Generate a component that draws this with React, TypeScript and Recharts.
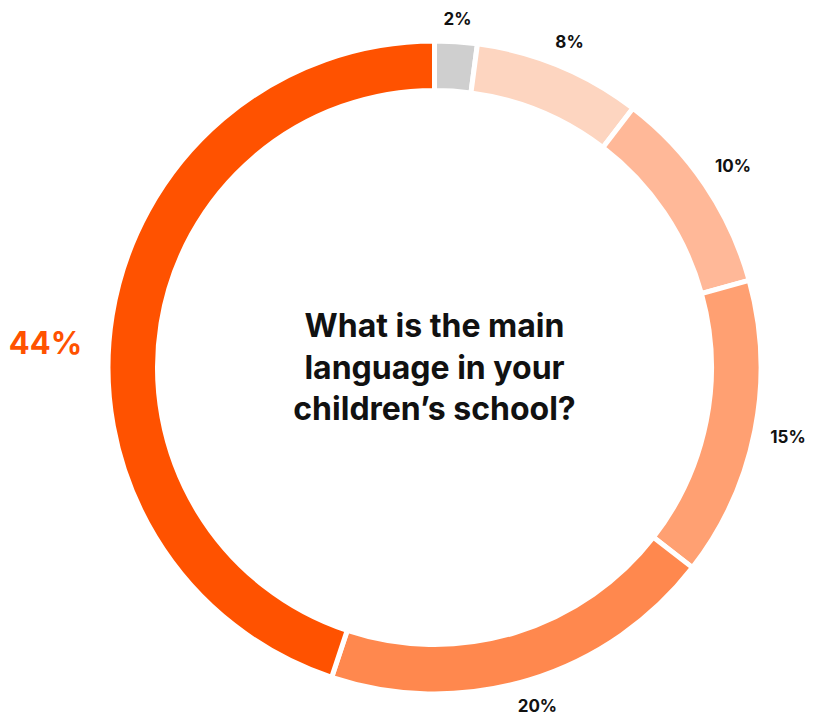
import React from 'react';
import { PieChart, Pie, Cell } from 'recharts';

const categories = ['Other', 'Answer E', 'Answer D', 'Answer C', 'Answer B', 'Answer A'];
const shares = [2.1, 8.3, 10.3, 14.8, 19.6, 44.9];
const labels = ['2%', '8%', '10%', '15%', '20%', '44%'];
const colors = ['#cfcfcf', '#fdd5c0', '#ffb898', '#ffa072', '#ff884e', '#ff5200'];
const titleLines = ['What is the main', 'language in your', 'children\u2019s school?'];

const data = categories.map((name, i) => ({ name, value: shares[i], label: labels[i] }));

const FONT = 'Inter, "Noto Sans", sans-serif';
const RAD = Math.PI / 180;

const renderLabel = (props: any) => {
    const { cx, cy, midAngle, outerRadius, index } = props;
    const big = index === labels.length - 1;
    const fontSize = big ? 31 : 17;
    const text = labels[index];
    const halfW = text.length * fontSize * 0.33;
    const halfH = fontSize * 0.38;
    // clockwise angle from 12 o'clock
    let t = (((90 - midAngle) % 360) + 360) % 360;
    // the big highlight label sits closer to the horizontal and further out
    if (big) t = 270 + (t - 270) * 0.4;
    const a = t * RAD;
    const gap = big ? 32 : 16;
    const r = outerRadius + gap + halfW * Math.abs(Math.sin(a)) + halfH * Math.abs(Math.cos(a));
    const x = cx + r * Math.sin(a);
    const y = cy - r * Math.cos(a);
    return (
        <text
            x={x}
            y={y}
            textAnchor="middle"
            dominantBaseline="central"
            fill={big ? '#ff5200' : '#111111'}
            fontSize={fontSize}
            fontWeight={700}
            fontFamily={FONT}
        >
            {text}
        </text>
    );
};

export default function App() {
    // chart margin is 5px, so pie centre is given relative to that
    const cx = 429.5;
    const cy = 362.5;
    return (
        <div style={{ position: 'absolute', left: 0, top: 0, width: 823, height: 716, background: '#fff' }}>
            <PieChart width={823} height={716}>
                <Pie
                    data={data}
                    dataKey="value"
                    nameKey="name"
                    cx={cx}
                    cy={cy}
                    innerRadius={277}
                    outerRadius={326.5}
                    startAngle={90}
                    endAngle={-270}
                    stroke="#ffffff"
                    strokeWidth={5}
                    label={renderLabel}
                    labelLine={false}
                    isAnimationActive={false}
                >
                    {data.map((d, i) => (
                        <Cell key={d.name} fill={colors[i]} />
                    ))}
                </Pie>
                <text
                    x={434.5}
                    y={337}
                    textAnchor="middle"
                    fill="#111111"
                    fontSize={32}
                    fontWeight={700}
                    fontFamily={FONT}
                >
                    {titleLines.map((line, i) => (
                        <tspan key={line} x={434.5} dy={i === 0 ? 0 : 41.5}>
                            {line}
                        </tspan>
                    ))}
                </text>
            </PieChart>
        </div>
    );
}
